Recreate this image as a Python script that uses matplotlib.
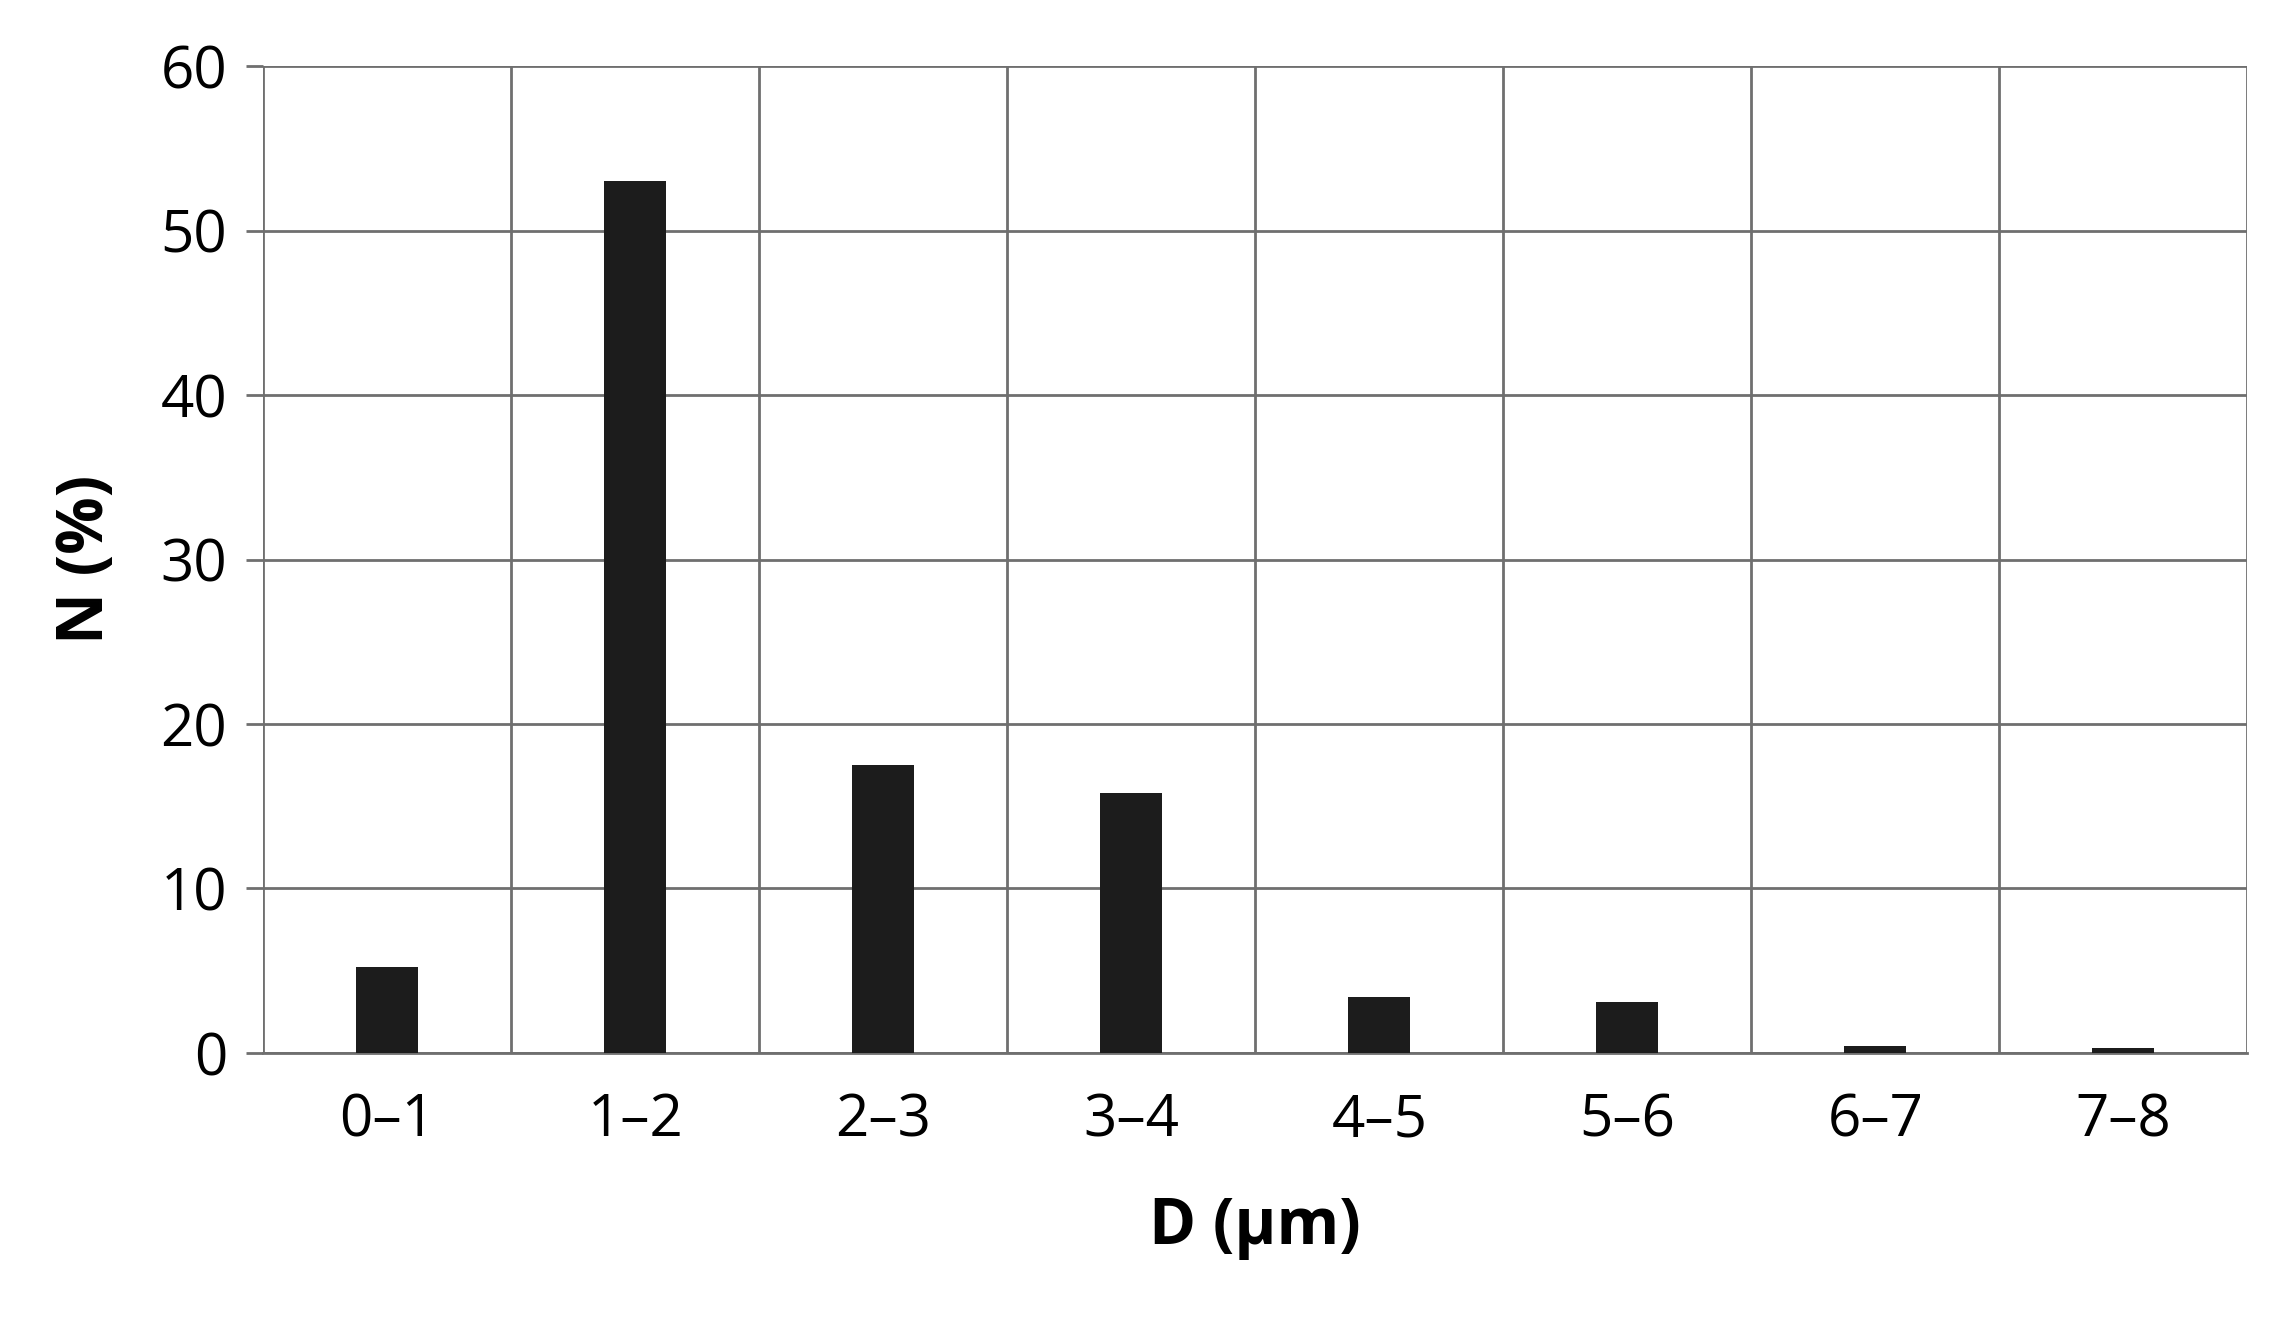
import matplotlib
matplotlib.use("Agg")
import matplotlib.pyplot as plt
import numpy as np

categories = ["0–1", "1–2", "2–3", "3–4", "4–5", "5–6", "6–7", "7–8"]
values = [5.2, 53.0, 17.5, 15.8, 3.4, 3.1, 0.4, 0.3]
yticks = [0, 10, 20, 30, 40, 50, 60]

plt.rcParams['font.family'] = ['Open Sans', 'DejaVu Sans']
fig = plt.figure(figsize=(22.7, 13.26), dpi=100)
ax = fig.add_axes([0.116, 0.206, 0.874, 0.744])
x = np.arange(len(categories))
ax.bar(x, values, width=0.25, color='#1c1c1c', zorder=3)
ax.set_xlim(-0.5, len(categories) - 0.5)
ax.set_ylim(0, 60)
ax.set_yticks(yticks)
ax.set_xticks(x)
ax.set_xticklabels(categories)
for b in np.arange(-0.5, len(categories), 1.0):
    ax.axvline(b, color='#6f6f6f', lw=2, zorder=1)
ax.yaxis.grid(True, color='#6f6f6f', lw=2, zorder=1)
for s in ['top', 'right', 'left']:
    ax.spines[s].set_visible(False)
ax.spines['bottom'].set_color('#6f6f6f')
ax.spines['bottom'].set_linewidth(2)
ax.tick_params(axis='x', length=0, labelsize=42, pad=28)
ax.tick_params(axis='y', length=12, width=2, color='#6f6f6f', labelsize=42, pad=14)
ax.set_xlabel("D (µm)", fontsize=46, fontweight='bold', labelpad=32)
ax.set_ylabel("N (%)", fontsize=46, fontweight='bold', labelpad=30)
fig.savefig("out.png", dpi=100)
